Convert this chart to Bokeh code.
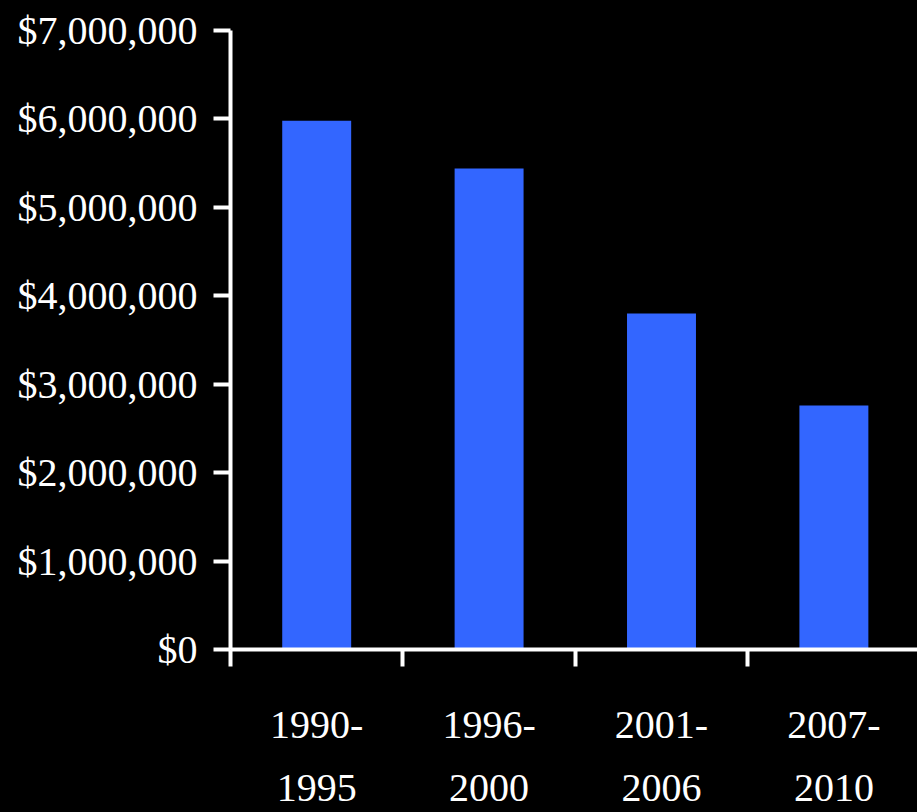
from bokeh.plotting import figure
from bokeh.models import Range1d, FixedTicker, NumeralTickFormatter, ColumnDataSource
from bokeh.embed import file_html
from bokeh.resources import INLINE

categories = ["1990-\n1995", "1996-\n2000", "2001-\n2006", "2007-\n2010"]
values = [5980000, 5440000, 3800000, 2760000]
y_ticks = [0, 1000000, 2000000, 3000000, 4000000, 5000000, 6000000, 7000000]

centers = [i + 0.5 for i in range(len(categories))]
src = ColumnDataSource(dict(x=centers, top=values))

FONT = "Liberation Serif"

p = figure(width=917, height=812, output_backend="svg", toolbar_location=None,
           x_range=Range1d(0, 3.985), y_range=Range1d(0, 7000000),
           min_border_left=230, min_border_right=0, min_border_top=30, min_border_bottom=100)
p.background_fill_color = "black"
p.border_fill_color = "black"
p.outline_line_color = None
p.xgrid.visible = False
p.ygrid.visible = False

p.vbar(x="x", top="top", width=0.4, bottom=0, source=src, fill_color="#3366FF", line_color=None)

# y axis
ya = p.yaxis[0]
ya.ticker = FixedTicker(ticks=y_ticks, minor_ticks=[])
ya.formatter = NumeralTickFormatter(format="$0,0")
ya.axis_line_color = "white"
ya.axis_line_width = 4
ya.major_tick_line_color = "white"
ya.major_tick_line_width = 4
ya.major_tick_out = 17
ya.major_tick_in = 0
ya.minor_tick_line_color = None
ya.major_label_text_color = "white"
ya.major_label_text_font = FONT
ya.major_label_text_font_size = "40px"
ya.major_label_standoff = 16

# x axis: ticks at category boundaries, labels at centers
xa = p.xaxis[0]
xa.ticker = FixedTicker(ticks=centers, minor_ticks=[0, 1, 2, 3, 4])
xa.major_label_overrides = {c: lab for c, lab in zip(centers, categories)}
xa.axis_line_color = "white"
xa.axis_line_width = 4
xa.major_tick_line_color = None
xa.major_tick_out = 0
xa.major_tick_in = 0
xa.minor_tick_line_color = "white"
xa.minor_tick_line_width = 4
xa.minor_tick_out = 17
xa.minor_tick_in = 0
xa.major_label_text_color = "white"
xa.major_label_text_font = FONT
xa.major_label_text_font_size = "40px"
xa.major_label_text_line_height = 1.4
xa.major_label_standoff = 35

html = file_html(p, INLINE)
html = html.replace("</head>", "<style>html,body{background:#000 !important;margin:0;}</style></head>", 1)
open("out.html", "w").write(html)
